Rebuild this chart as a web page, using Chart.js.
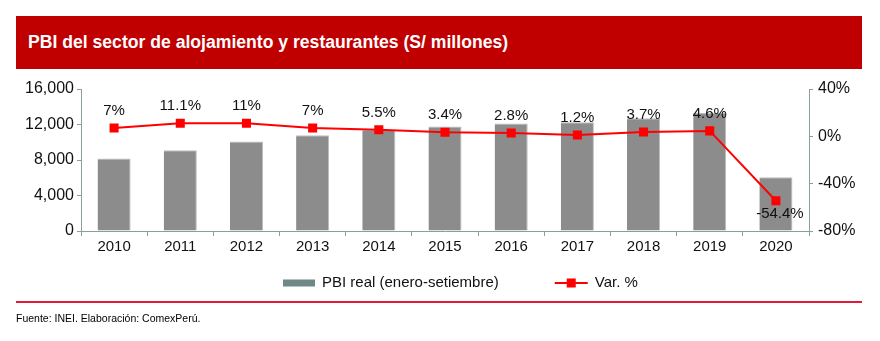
<!DOCTYPE html>
<html lang="es">
<head>
<meta charset="utf-8">
<title>PBI alojamiento y restaurantes</title>
<script src="https://cdn.jsdelivr.net/npm/chart.js@4.4.1/dist/chart.umd.min.js"></script>
<style>
    body { margin: 0; background: #fff; font-family: "Liberation Sans", Arial, sans-serif; }
    #wrap { position: relative; width: 880px; height: 341px; }
    #titulo {
        position: absolute; left: 16px; top: 16px; width: 846px; height: 53px;
        background: #C00000; color: #fff; font-weight: bold; font-size: 17.6px;
        line-height: 53px; padding-left: 12px; box-sizing: border-box;
    }
    #linea { position: absolute; left: 16px; top: 301px; width: 846px; height: 2px; background: #E31B3A; }
    #fuente { position: absolute; left: 16px; top: 312px; font-size: 10.5px; color: #000; }
    #chartBox { position: absolute; left: 0; top: 0; width: 880px; height: 341px; }
</style>
</head>
<body>
<div id="wrap">
    <div id="titulo">PBI del sector de alojamiento y restaurantes (S/ millones)</div>
    <div id="chartBox"><canvas id="grafico" width="880" height="341"></canvas></div>
    <div id="linea"></div>
    <div id="fuente">Fuente: INEI. Elaboración: ComexPerú.</div>
</div>

<script>
// ***************************************************************************************************
// Datos del gráfico

const anios = ["2010", "2011", "2012", "2013", "2014", "2015", "2016", "2017", "2018", "2019", "2020"];
const pbiReal = [8180, 9090, 10090, 10790, 11390, 11780, 12110, 12250, 12700, 13290, 6060];
const varPct = [7, 11.1, 11, 7, 5.5, 3.4, 2.8, 1.2, 3.7, 4.6, -54.4];

const ticksPbi = [0, 4000, 8000, 12000, 16000];
const ticksVar = [-80, -40, 0, 40];

// ***************************************************************************************************

const EJE = "#8A9E9E";
const GRIS_BARRA = "#8C8C8C";
const ROJO = "#FF0000";
const FUENTE = "'Liberation Sans', Arial, sans-serif";

// etiquetas de la variación sobre cada punto
const etiquetasPlugin = {
    id: 'etiquetas',
    afterDatasetsDraw(chart) {
        const ctx = chart.ctx;
        const meta = chart.getDatasetMeta(1);
        ctx.save();
        ctx.font = "15px " + FUENTE;
        ctx.fillStyle = "#111";
        ctx.textAlign = "center";
        ctx.textBaseline = "middle";
        meta.data.forEach((pt, i) => {
            const v = varPct[i];
            if (v < 0) {
                ctx.fillText(v + "%", pt.x + 4, pt.y + 13);
            } else {
                ctx.fillText(v + "%", pt.x, pt.y - 17);
            }
        });
        ctx.restore();
    }
};

// leyenda dibujada a mano (barra + línea con marcador)
const leyendaPlugin = {
    id: 'leyenda',
    afterDraw(chart) {
        const ctx = chart.ctx;
        const ds = chart.data.datasets;
        ctx.save();
        ctx.font = "15px " + FUENTE;
        ctx.fillStyle = "#111";
        ctx.textBaseline = "middle";
        let x = 283;
        const y = 283;

        ctx.fillStyle = "#718888";
        ctx.fillRect(x, y - 3.5, 32, 7);
        x += 39;
        ctx.fillStyle = "#111";
        ctx.fillText(ds[0].label, x, y);
        x += ctx.measureText(ds[0].label).width + 56;

        ctx.strokeStyle = ds[1].borderColor;
        ctx.lineWidth = 2;
        ctx.beginPath();
        ctx.moveTo(x, y);
        ctx.lineTo(x + 33, y);
        ctx.stroke();
        ctx.fillStyle = ds[1].pointBackgroundColor;
        ctx.fillRect(x + 12, y - 4.5, 9, 9);
        x += 40;
        ctx.fillStyle = "#111";
        ctx.fillText(ds[1].label, x, y);
        ctx.restore();
    }
};

const ctx = document.getElementById('grafico').getContext('2d');

const grafico = new Chart(ctx, {
    type: 'bar',
    data: {
        labels: anios,
        datasets: [{
            type: 'bar',
            label: 'PBI real (enero-setiembre)',
            data: pbiReal,
            backgroundColor: GRIS_BARRA,
            borderColor: "#BDBDBD",
            borderWidth: { top: 1, right: 1, left: 0, bottom: 0 },
            barPercentage: 0.5,
            categoryPercentage: 1,
            yAxisID: 'y',
            order: 1
        }, {
            type: 'line',
            label: 'Var. %',
            data: varPct,
            borderColor: ROJO,
            borderWidth: 2,
            pointStyle: 'rect',
            pointRadius: 6.4,
            pointBackgroundColor: ROJO,
            pointBorderColor: ROJO,
            pointBorderWidth: 0,
            tension: 0,
            yAxisID: 'y1',
            order: 0
        }]
    },
    options: {
        responsive: false,
        animation: false,
        devicePixelRatio: 1,
        layout: { padding: { top: 89, left: 0, right: 0, bottom: 75 } },
        plugins: {
            legend: { display: false },
            tooltip: { enabled: false }
        },
        scales: {
            x: {
                offset: true,
                grid: { display: true, drawOnChartArea: false, offset: true, color: EJE, tickLength: 5 },
                border: { color: EJE, width: 1 },
                ticks: { color: "#111", font: { size: 15, family: FUENTE }, padding: 2, maxRotation: 0 },
                afterFit(scale) { scale.height = 35; }
            },
            y: {
                position: 'left',
                min: 0,
                max: 16000,
                afterBuildTicks(scale) { scale.ticks = ticksPbi.map(v => ({ value: v })); },
                grid: { display: true, drawOnChartArea: false, color: EJE, tickLength: 4 },
                border: { color: EJE, width: 1 },
                ticks: {
                    color: "#111",
                    font: { size: 16, family: FUENTE },
                    padding: 3,
                    callback: v => v.toLocaleString('en-US')
                },
                afterFit(scale) { scale.width = 81; }
            },
            y1: {
                position: 'right',
                min: -80,
                max: 40,
                afterBuildTicks(scale) { scale.ticks = ticksVar.map(v => ({ value: v })); },
                grid: { display: true, drawOnChartArea: false, color: EJE, tickLength: 4 },
                border: { color: EJE, width: 1 },
                ticks: {
                    color: "#111",
                    font: { size: 16, family: FUENTE },
                    padding: 5,
                    callback: v => v + "%"
                },
                afterFit(scale) { scale.width = 71; }
            }
        }
    },
    plugins: [etiquetasPlugin, leyendaPlugin]
});
</script>
</body>
</html>
